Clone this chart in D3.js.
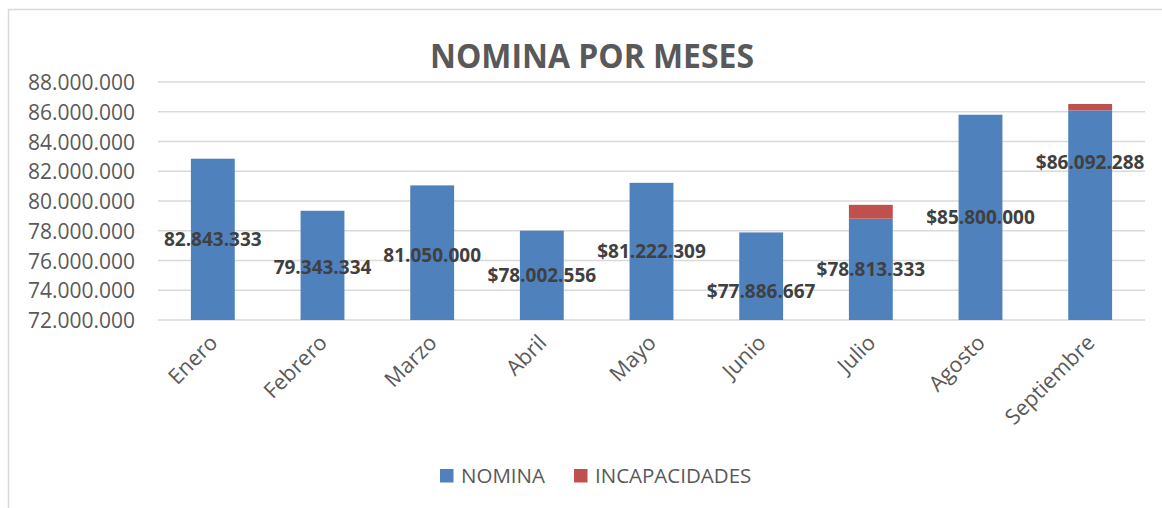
<!DOCTYPE html>
<html><head><meta charset="utf-8">
<script src="https://cdn.jsdelivr.net/npm/d3@7"></script>
<style>
html,body{margin:0;padding:0;background:#fff;}
svg{display:block;font-family:"Open Sans",sans-serif;}
</style></head>
<body><svg id="c" width="1162" height="508"></svg>
<script>
const title = "NOMINA POR MESES";
const months = ["Enero","Febrero","Marzo","Abril","Mayo","Junio","Julio","Agosto","Septiembre"];
const nomina = [82843333,79343334,81050000,78002556,81222309,77886667,78813333,85800000,86092288];
const incapacidades = [0,0,0,0,0,0,930000,0,430000];
const nominaLabels = ["82.843.333","79.343.334","81.050.000","$78.002.556","$81.222.309","$77.886.667","$78.813.333","$85.800.000","$86.092.288"];
const yTicks = [72000000,74000000,76000000,78000000,80000000,82000000,84000000,86000000,88000000];
const seriesNames = ["NOMINA","INCAPACIDADES"];
const colors = ["#4F81BD","#C0504D"];

// layout tweaks (pixels) for manually moved labels
const labelNudge = {Febrero:2, Marzo:2, Junio:15, Septiembre:-53};

const svg = d3.select("#c");
const loc = d3.formatLocale({decimal:",",thousands:".",grouping:[3],currency:["$",""]});
const fmt = loc.format(",.0f");

svg.append("rect").attr("x",8.5).attr("y",9.5).attr("width",1300).attr("height",700)
  .attr("fill","#fff").attr("stroke","#D9D9D9").attr("stroke-width",1.5);

const pLeft=158,pRight=1145,pTop=82,pBottom=320;
const base = yTicks[0];
const x = d3.scaleBand().domain(months).range([pLeft,pRight]).paddingInner(0.6).paddingOuter(0.3);
const y = d3.scaleLinear().domain([yTicks[0],yTicks[yTicks.length-1]]).range([pBottom,pTop]);

// grid
svg.append("g").selectAll("line").data(yTicks).join("line")
  .attr("x1",pLeft).attr("x2",pRight).attr("y1",d=>y(d)).attr("y2",d=>y(d))
  .attr("stroke","#D9D9D9").attr("stroke-width",1.5);

// y axis labels
const yAxis = d3.axisLeft(y).tickValues(yTicks).tickFormat(fmt).tickSize(0).tickPadding(0);
const ya = svg.append("g").attr("transform",`translate(135,0)`).call(yAxis);
ya.select(".domain").remove();
ya.selectAll("text").attr("font-family","Open Sans").attr("font-size",21).attr("fill","#595959").attr("dy","0.36em");

// stacked bars
const data = months.map((m,i)=>({m, NOMINA:nomina[i], INCAPACIDADES:incapacidades[i]}));
const stack = d3.stack().keys(seriesNames).value((d,k)=> k==="NOMINA" ? d[k]-base : d[k]);
const series = stack(data);
svg.append("g").selectAll("g").data(series).join("g").attr("fill",(d,i)=>colors[i])
  .selectAll("rect").data(d=>d).join("rect")
  .attr("x",d=>x(d.data.m)).attr("width",x.bandwidth())
  .attr("y",d=>y(d[1]+base)).attr("height",d=>y(d[0]+base)-y(d[1]+base));

// data labels
svg.append("g").selectAll("text").data(data).join("text")
  .attr("x",d=>x(d.m)+x.bandwidth()/2)
  .attr("y",d=>y((base+d.NOMINA)/2)+(labelNudge[d.m]||0))
  .attr("dy","0.36em").attr("text-anchor","middle")
  .attr("font-weight","bold").attr("font-size",19).attr("fill","#404040")
  .text((d,i)=>nominaLabels[i]);

// x labels
svg.append("g").selectAll("text").data(months).join("text")
  .attr("transform",d=>`translate(${x(d)+x.bandwidth()/2+6},${pBottom+24}) rotate(-45)`)
  .attr("text-anchor","end").attr("font-size",21.5).attr("fill","#595959")
  .text(d=>d);

// title
svg.append("text").attr("x",592).attr("y",68).attr("text-anchor","middle")
  .attr("font-weight","bold").attr("font-size",34).attr("fill","#595959")
  .attr("textLength",324).attr("lengthAdjust","spacingAndGlyphs").text(title);

// legend
const legX = [440,574];
const lg = svg.append("g").selectAll("g").data(seriesNames).join("g")
  .attr("transform",(d,i)=>`translate(${legX[i]},469)`);
lg.append("rect").attr("width",13.5).attr("height",13.5).attr("fill",(d,i)=>colors[i]);
lg.append("text").attr("x",21).attr("y",7).attr("dy","0.36em").attr("font-size",20.5).attr("fill","#595959").text(d=>d);
</script></body></html>
